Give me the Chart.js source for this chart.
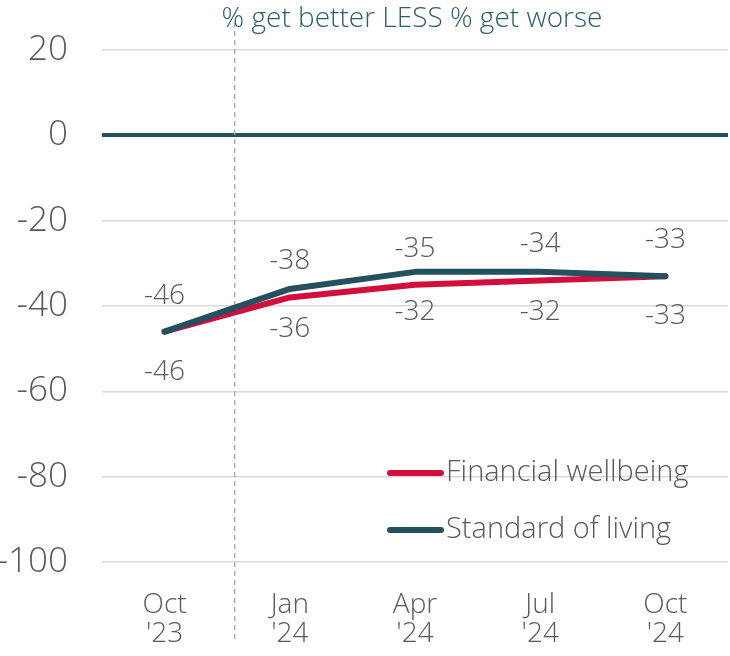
<!DOCTYPE html>
<html>
<head>
<meta charset="utf-8">
<script src="https://cdn.jsdelivr.net/npm/chart.js@4.4.1/dist/chart.umd.min.js"></script>
<style>
html,body{margin:0;padding:0;background:#fff;}
#wrap{position:relative;width:730px;height:656px;}
</style>
</head>
<body>
<div id="wrap"><canvas id="c" width="730" height="656"></canvas></div>
<script>
const categories = [["Oct","'23"],["Jan","'24"],["Apr","'24"],["Jul","'24"],["Oct","'24"]];
const financialWellbeing = [-46, -38, -35, -34, -33];
const standardOfLiving = [-46, -36, -32, -32, -33];
const yTicks = [20, 0, -20, -40, -60, -80, -100];
const seriesNames = ["Financial wellbeing", "Standard of living"];
const chartTitle = "% get better LESS % get worse";

const FONT = "'Open Sans', Lato, sans-serif";
const RED = "#D20F3C";
const DARK = "#24505F";
const GREY_TXT = "#595959";

const overlay = {
  id: 'overlay',
  beforeDatasetsDraw(chart) {
    const ctx = chart.ctx, xs = chart.scales.x;
    const x = xs.getPixelForValue(0.56);
    ctx.save();
    ctx.strokeStyle = "#A6A6A6";
    ctx.lineWidth = 1.3;
    ctx.setLineDash([5,4]);
    ctx.beginPath(); ctx.moveTo(x, 22); ctx.lineTo(x, 642); ctx.stroke();
    ctx.restore();
  },
  afterDraw(chart) {
    const ctx = chart.ctx, ys = chart.scales.y, ca = chart.chartArea;
    ctx.save();
    ctx.textBaseline = 'middle';
    // y tick labels, positioned through the y scale
    ctx.fillStyle = GREY_TXT;
    ctx.font = "300 35px " + FONT;
    ctx.textAlign = 'right';
    ys.ticks.forEach(t => {
      ctx.fillText(String(t.value), ca.left - 34, ys.getPixelForValue(t.value));
    });
    // title
    ctx.fillStyle = "#2F5E6C";
    ctx.font = "300 28px " + FONT;
    ctx.textAlign = 'center';
    ctx.fillText(chartTitle, (ca.left + ca.right) / 2 - 3, 19);
    // data labels
    ctx.fillStyle = GREY_TXT;
    ctx.font = "300 28px " + FONT;
    const m0 = chart.getDatasetMeta(0), m1 = chart.getDatasetMeta(1);
    m0.data.forEach((p, i) => { ctx.fillText(String(financialWellbeing[i]), p.x, p.y - 36); });
    m1.data.forEach((p, i) => { ctx.fillText(String(standardOfLiving[i]), p.x, p.y + 40); });
    // legend
    const items = [[seriesNames[0], RED, 473], [seriesNames[1], DARK, 530]];
    items.forEach(([lab, col, y]) => {
      ctx.strokeStyle = col; ctx.lineWidth = 6; ctx.lineCap = 'round';
      ctx.beginPath(); ctx.moveTo(390, y); ctx.lineTo(441, y); ctx.stroke();
      ctx.fillStyle = GREY_TXT; ctx.font = "300 29px " + FONT; ctx.textAlign = 'left';
      ctx.fillText(lab, 446, y);
    });
    ctx.restore();
  }
};

new Chart(document.getElementById('c'), {
  type: 'line',
  data: {
    labels: categories,
    datasets: [
      { label: seriesNames[0], data: financialWellbeing, borderColor: RED, backgroundColor: RED, borderWidth: 6, order: 1 },
      { label: seriesNames[1], data: standardOfLiving, borderColor: DARK, backgroundColor: DARK, borderWidth: 6, order: 0 }
    ]
  },
  options: {
    responsive: false,
    animation: false,
    devicePixelRatio: 1,
    layout: { padding: { top: 50, right: 2, left: 0, bottom: 0 } },
    elements: {
      line: { tension: 0, borderCapStyle: 'round', borderJoinStyle: 'round' },
      point: { radius: 0, hoverRadius: 0 }
    },
    plugins: { legend: { display: false }, tooltip: { enabled: false }, title: { display: false } },
    scales: {
      x: {
        offset: true,
        grid: { display: false, drawTicks: false },
        border: { display: false },
        ticks: { color: GREY_TXT, font: { family: FONT, size: 28, weight: 300, lineHeight: 1.05 }, padding: 28, maxRotation: 0, autoSkip: false },
        afterFit(s) { s.height = 94; }
      },
      y: {
        min: -100, max: 20,
        afterBuildTicks(s) { s.ticks = yTicks.map(v => ({ value: v })); },
        grid: {
          drawTicks: false,
          color: c => c.tick && c.tick.value === 0 ? DARK : "#D9D9D9",
          lineWidth: c => c.tick && c.tick.value === 0 ? 4 : 1.5
        },
        border: { display: false },
        ticks: { display: false },
        afterFit(s) { s.width = 102; }
      }
    }
  },
  plugins: [overlay]
});
</script>
</body>
</html>
